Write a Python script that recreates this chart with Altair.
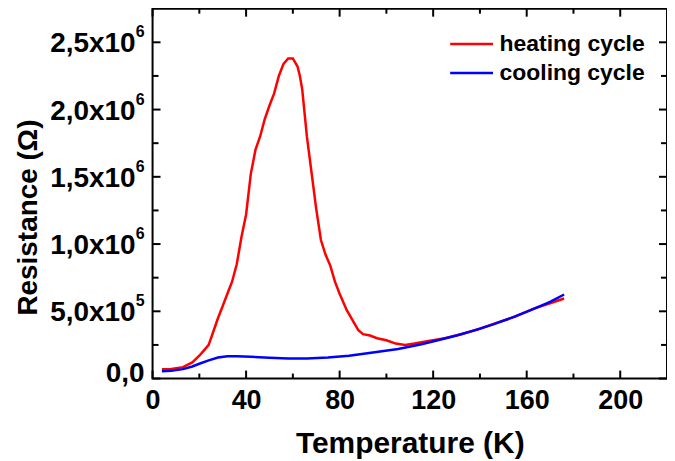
import altair as alt
import pandas as pd

# ---------------- data ----------------
heat_T = [4, 8, 13, 17, 20, 22, 24, 26, 28, 30, 32, 34, 36, 38, 40, 42, 44, 46, 48,
          50, 52, 54, 56, 58, 60, 62, 63, 64, 66, 68, 70, 72, 74, 76, 78, 80, 83, 86,
          88, 90, 93, 96, 100, 104, 108, 112, 118, 125, 132, 140, 148, 155, 163, 170, 176]
heat_R = [0.07, 0.072, 0.085, 0.12, 0.17, 0.21, 0.25, 0.35, 0.45, 0.54, 0.63, 0.72,
          0.85, 1.05, 1.22, 1.52, 1.70, 1.80, 1.93, 2.03, 2.12, 2.25, 2.34, 2.38, 2.38,
          2.32, 2.25, 2.15, 1.80, 1.53, 1.26, 1.03, 0.92, 0.84, 0.72, 0.63, 0.51, 0.42,
          0.36, 0.33, 0.32, 0.30, 0.285, 0.26, 0.25, 0.26, 0.28, 0.30, 0.33, 0.37, 0.42,
          0.46, 0.52, 0.56, 0.595]
cool_T = [4, 8, 13, 17, 20, 24, 28, 32, 36, 42, 50, 58, 66, 75, 84, 95, 105, 115, 122,
          130, 138, 146, 154, 162, 170, 176]
cool_R = [0.055, 0.058, 0.07, 0.09, 0.11, 0.135, 0.157, 0.165, 0.166, 0.162, 0.155,
          0.15, 0.15, 0.157, 0.17, 0.195, 0.22, 0.255, 0.285, 0.32, 0.36, 0.405, 0.455,
          0.51, 0.57, 0.625]

series_names = ["heating cycle", "cooling cycle"]
series_colors = ["#ff0000", "#0000ff"]

x_major = [0, 40, 80, 120, 160, 200]
x_minor = [20, 60, 100, 140, 180]
y_major = [0, 5e5, 1e6, 1.5e6, 2e6, 2.5e6]
y_minor = [2.5e5, 7.5e5, 1.25e6, 1.75e6, 2.25e6]
y_label_main = ["0,0", "5,0x10", "1,0x10", "1,5x10", "2,0x10", "2,5x10"]
y_label_exp = ["", "5", "6", "6", "6", "6"]

# ---------------- layout ----------------
W, H = 516, 371
FONT = "Liberation Sans"

df = pd.DataFrame({
    "T": heat_T + cool_T,
    "R": [v * 1e6 for v in heat_R] + [v * 1e6 for v in cool_R],
    "cycle": [series_names[0]] * len(heat_T) + [series_names[1]] * len(cool_T),
})

xs = alt.Scale(domain=[0, 220], nice=False, zero=False)
ys = alt.Scale(domain=[0, 2.75e6], nice=False)

x_axis = alt.Axis(
    values=x_major, title="Temperature (K)", domain=False, ticks=False, tickSize=0,
    grid=False, labelFont=FONT, labelFontSize=27, labelFontWeight="bold",
    labelColor="black", labelPadding=9, labelFlush=False,
    titleFont=FONT, titleFontSize=30, titleFontWeight="bold", titleColor="black",
    titleY=74, titleBaseline="alphabetic")
y_axis = alt.Axis(
    values=y_major, labels=False, ticks=False, tickSize=0, domain=False, grid=False,
    title="Resistance (Ω)", titleFont=FONT, titleFontSize=28, titleFontWeight="bold",
    titleColor="black", titleX=-116, titleY=209, titleBaseline="alphabetic",
    titleAngle=270)

lines = alt.Chart(df).mark_line(strokeWidth=2.5).encode(
    x=alt.X("T:Q", scale=xs, axis=x_axis),
    y=alt.Y("R:Q", scale=ys, axis=y_axis),
    color=alt.Color("cycle:N", sort=series_names,
                    scale=alt.Scale(domain=series_names, range=series_colors),
                    legend=alt.Legend(orient="none", legendX=297, legendY=22, title=None,
                                      symbolType="stroke", symbolSize=1849,
                                      symbolStrokeWidth=2.5, labelFont=FONT,
                                      labelFontSize=23, labelFontWeight="bold",
                                      labelColor="black", labelOffset=5, rowPadding=2,
                                      clipHeight=27, padding=0, offset=0)),
)

def xticks(vals, length, top):
    d = pd.DataFrame({"T": vals})
    if top:
        y0, y1 = 0, length
    else:
        y0, y1 = H, H - length
    return alt.Chart(d).mark_rule(color="black", strokeWidth=2).encode(
        x=alt.X("T:Q", scale=xs, axis=x_axis), y=alt.value(y0), y2=alt.value(y1))

def yticks(vals, length, right):
    d = pd.DataFrame({"R": vals})
    if right:
        x0, x1 = W, W - length
    else:
        x0, x1 = 0, length
    return alt.Chart(d).mark_rule(color="black", strokeWidth=2).encode(
        y=alt.Y("R:Q", scale=ys, axis=y_axis), x=alt.value(x0), x2=alt.value(x1))

ticks = [
    xticks(x_major, 8, False), xticks(x_minor, 5, False),
    xticks(x_major, 8, True), xticks(x_minor, 5, True),
    yticks(y_major, 8, False), yticks(y_minor, 6, False),
    yticks(y_major, 8, True), yticks(y_minor, 6, True),
]

ylab = pd.DataFrame({"R": y_major[1:], "main": y_label_main[1:], "exp": y_label_exp[1:]})
zero_lab = pd.DataFrame({"R": y_major[:1], "main": y_label_main[:1]})

main_txt = alt.Chart(ylab).mark_text(
    align="right", baseline="middle", font=FONT, fontWeight="bold", fontSize=28,
    color="black", dy=2).encode(
    y=alt.Y("R:Q", scale=ys, axis=y_axis), x=alt.value(-17), text="main:N")
exp_txt = alt.Chart(ylab).mark_text(
    align="right", baseline="middle", font=FONT, fontWeight="bold", fontSize=16,
    color="black", dy=-10).encode(
    y=alt.Y("R:Q", scale=ys, axis=y_axis), x=alt.value(-8), text="exp:N")
zero_txt = alt.Chart(zero_lab).mark_text(
    align="right", baseline="middle", font=FONT, fontWeight="bold", fontSize=28,
    color="black", dy=-5).encode(
    y=alt.Y("R:Q", scale=ys, axis=y_axis), x=alt.value(-8), text="main:N")

chart = alt.layer(lines, *ticks, main_txt, exp_txt, zero_txt).properties(
    width=W, height=H,
    autosize=alt.AutoSizeParams(type="none"),
    padding={"left": 145, "top": 0, "right": 0, "bottom": 80},
).configure(font=FONT, view=alt.ViewConfig(stroke="black", strokeWidth=2))

chart.save("out.html", embed_options={"renderer": "svg", "actions": False})
